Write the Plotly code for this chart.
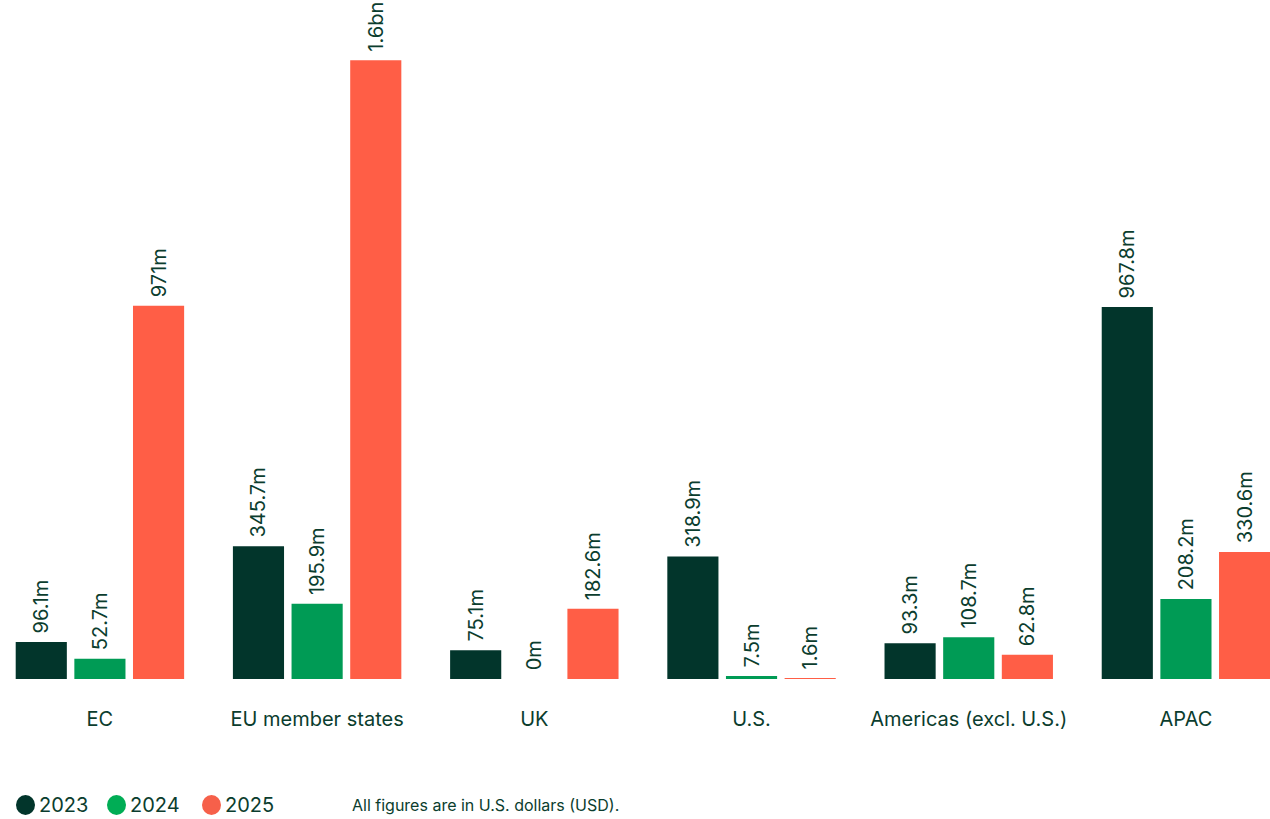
import plotly.graph_objects as go

categories = ["EC", "EU member states", "UK", "U.S.", "Americas (excl. U.S.)", "APAC"]
years = ["2023", "2024", "2025"]
values_2023 = [96.1, 345.7, 75.1, 318.9, 93.3, 967.8]
values_2024 = [52.7, 195.9, 0, 7.5, 108.7, 208.2]
values_2025 = [971, 1610, 182.6, 1.6, 62.8, 330.6]
colors = ["#02352B", "#009B55", "#FF5E46"]
legend_colors = ["#02352B", "#00AD55", "#F6604A"]
note = "All figures are in U.S. dollars (USD)."

TEXT = "#0B3D2E"
FONT = "Inter, Roboto, sans-serif"


def fmt(v):
    if v >= 1000:
        return f"\u00A0{v/1000:.1f}bn"
    return f"\u00A0{v:g}m"


fig = go.Figure()
for yr, vals, col in zip(years, [values_2023, values_2024, values_2025], colors):
    fig.add_trace(go.Bar(
        x=categories, y=vals, name=yr,
        marker=dict(color=col, line=dict(width=0)),
        text=[fmt(v) for v in vals],
        textposition="outside", textangle=-90,
        textfont=dict(family=FONT, size=20, color=TEXT),
        constraintext="none", cliponaxis=False,
        showlegend=False, hoverinfo="skip",
    ))

# legend drawn as circles + labels below the plot
LEG_Y = -(805 - 679) / 679
legend_x = [16, 107, 202]
shapes = []
annotations = []
for x0, yr, col in zip(legend_x, years, legend_colors):
    shapes.append(dict(
        type="circle", xref="paper", yref="paper",
        xsizemode="pixel", ysizemode="pixel",
        xanchor=x0 / 1270, yanchor=LEG_Y,
        x0=0, x1=19, y0=-10, y1=10,
        fillcolor=col, line=dict(width=0),
    ))
    annotations.append(dict(
        text=yr, xref="paper", yref="paper", x=(x0 + 21) / 1270, y=LEG_Y,
        xanchor="left", yanchor="middle", showarrow=False,
        font=dict(family=FONT, size=20, color=TEXT),
    ))
annotations.append(dict(
    text=note, xref="paper", yref="paper", x=350 / 1270, y=LEG_Y,
    xanchor="left", yanchor="middle", showarrow=False,
    font=dict(family=FONT, size=16, color=TEXT),
))

fig.update_layout(
    width=1270, height=819,
    margin=dict(l=0, r=0, t=0, b=140, autoexpand=False),
    paper_bgcolor="white", plot_bgcolor="white",
    barmode="group", bargap=0.19, bargroupgap=0.128,
    font=dict(family=FONT, color=TEXT),
    showlegend=False,
    xaxis=dict(
        range=[-0.46, 5.387], showgrid=False, zeroline=False, showline=False,
        ticks="outside", ticklen=22, tickcolor="rgba(0,0,0,0)",
        tickfont=dict(family=FONT, size=20, color=TEXT),
    ),
    yaxis=dict(range=[0, 1766.8], visible=False, showgrid=False, zeroline=False),
    shapes=shapes,
    annotations=annotations,
)

fig.write_html("out.html", config={"displayModeBar": False},
               post_script="document.body.style.margin='0';")
